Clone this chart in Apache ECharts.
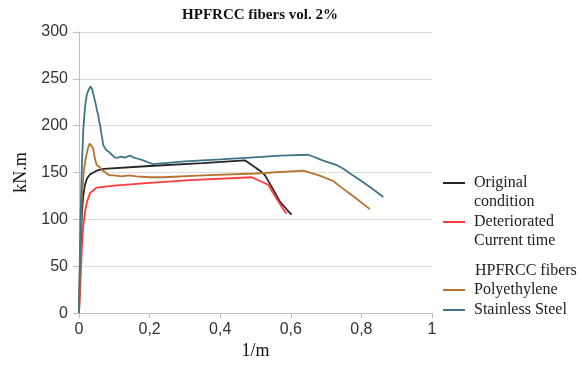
<!DOCTYPE html>
<html>
<head>
<meta charset="utf-8">
<script src="https://cdn.jsdelivr.net/npm/echarts@6/dist/echarts.min.js"></script>
<style>
  html, body { margin: 0; padding: 0; background: #fff; }
  #chart { width: 582px; height: 365px; }
</style>
</head>
<body>
<div id="chart"></div>
<script>
// curvature 1/m vs moment kN.m
var original = [
  [0, 0], [0.004, 60], [0.008, 105], [0.012, 125], [0.017, 137], [0.023, 144],
  [0.031, 148], [0.05, 152], [0.07, 154], [0.2, 157], [0.35, 160], [0.47, 163],
  [0.513, 152], [0.527, 147], [0.55, 132], [0.569, 119], [0.59, 110], [0.602, 105]
];
var deteriorated = [
  [0, 0], [0.003, 24], [0.008, 70], [0.012, 93], [0.017, 108], [0.022, 118],
  [0.031, 128], [0.05, 134], [0.1, 136], [0.2, 139], [0.314, 142], [0.489, 145],
  [0.536, 137], [0.56, 122], [0.575, 113], [0.588, 106]
];
var polyethylene = [
  [0, 0], [0.004, 75], [0.008, 122], [0.013, 150], [0.018, 163], [0.024, 174],
  [0.03, 181], [0.035, 182], [0.04, 176], [0.045, 165], [0.05, 158], [0.058, 156],
  [0.064, 153], [0.069, 152], [0.075, 150], [0.082, 148], [0.088, 147], [0.1, 147],
  [0.12, 146], [0.14, 147], [0.163, 146], [0.2, 145], [0.239, 145], [0.35, 147],
  [0.5, 149], [0.635, 152], [0.68, 147], [0.72, 141], [0.74, 135], [0.758, 130],
  [0.79, 121], [0.824, 111]
];
var stainless = [
  [0, 0], [0.004, 95], [0.008, 155], [0.012, 195], [0.017, 220], [0.022, 233],
  [0.028, 239], [0.033, 242], [0.038, 238], [0.043, 230], [0.048, 222], [0.051, 216],
  [0.054, 212], [0.057, 205], [0.06, 200], [0.063, 192], [0.066, 186], [0.069, 179],
  [0.073, 177], [0.077, 174], [0.081, 176], [0.085, 172], [0.089, 174], [0.093, 169],
  [0.098, 168], [0.102, 166], [0.11, 166], [0.12, 167], [0.13, 166], [0.144, 168],
  [0.155, 166], [0.165, 165], [0.182, 163], [0.195, 161], [0.21, 159], [0.3, 162],
  [0.4, 164], [0.484, 166], [0.57, 168], [0.65, 169], [0.69, 163], [0.73, 158],
  [0.749, 154], [0.768, 149], [0.8, 141], [0.83, 133], [0.862, 124]
];

var xTicks = [0, 0.2, 0.4, 0.6, 0.8, 1];
var yTicks = [0, 50, 100, 150, 200, 250, 300];

var seriesNames = ['Original\ncondition', 'Deteriorated\nCurrent time', 'Polyethylene', 'Stainless Steel'];
var seriesData = [original, deteriorated, polyethylene, stainless];
var seriesColors = ['#262626', '#ff3a3a', '#b8722f', '#3f7586'];

var serif = '"Liberation Serif", "DejaVu Serif", serif';
var sans = '"Liberation Sans", Arial, sans-serif';

var myChart = echarts.init(document.getElementById('chart'));

var series = [];
for (var i = 0; i < seriesNames.length; i++) {
    series.push({
        name: seriesNames[i],
        type: 'line',
        data: seriesData[i],
        symbol: 'none',
        smooth: false,
        lineStyle: { color: seriesColors[i], width: 1.8 },
        itemStyle: { color: seriesColors[i] }
    });
}

myChart.setOption({
    animation: false,
    title: {
        text: 'HPFRCC fibers vol. 2%',
        left: 255,
        top: 3,
        textAlign: 'center',
        textStyle: { fontFamily: serif, fontSize: 15, fontWeight: 'bold', color: '#111' }
    },
    legend: [
        {   // two-line names: a blank first line puts the icon level with "Original"
            data: [seriesNames[0], seriesNames[1]],
            orient: 'vertical',
            left: 438,
            top: 149.5,
            icon: 'rect',
            itemWidth: 22,
            itemHeight: 2,
            itemGap: -18,
            formatter: function (name) { return ' \n' + name; },
            textStyle: { fontFamily: serif, fontSize: 16, color: '#222', lineHeight: 19, padding: [0, 0, 0, 4] }
        },
        {
            data: [seriesNames[2], seriesNames[3]],
            orient: 'vertical',
            left: 438,
            top: 275.5,
            icon: 'rect',
            itemWidth: 22,
            itemHeight: 2,
            itemGap: 1,
            textStyle: { fontFamily: serif, fontSize: 16, color: '#222', lineHeight: 19, padding: [0, 0, 0, 4] }
        }
    ],
    graphic: [{
        type: 'text',
        left: 475,
        top: 263,
        style: { text: 'HPFRCC fibers', fontFamily: serif, fontSize: 16, fill: '#222' }
    }],
    grid: { left: 79, right: 150, top: 32, bottom: 49 },
    xAxis: {
        type: 'value',
        min: 0,
        max: 1,
        interval: 0.2,
        name: '1/m',
        nameLocation: 'middle',
        nameGap: 26,
        nameTextStyle: { fontFamily: serif, fontSize: 18, color: '#111' },
        axisLine: { show: true, lineStyle: { color: '#bfbfbf', width: 1 } },
        axisTick: { show: true, length: 5, lineStyle: { color: '#bfbfbf' } },
        splitLine: { show: false },
        axisLabel: {
            fontFamily: sans, fontSize: 16, color: '#333', margin: 8,
            formatter: function (v) { return String(v).replace('.', ','); }
        }
    },
    yAxis: {
        type: 'value',
        min: 0,
        max: 300,
        interval: 50,
        name: 'kN.m',
        nameLocation: 'middle',
        nameRotate: 90,
        nameGap: 48,
        nameTextStyle: { fontFamily: serif, fontSize: 18, color: '#111' },
        axisLine: { show: true, lineStyle: { color: '#bfbfbf', width: 1 } },
        axisTick: { show: true, length: 6, lineStyle: { color: '#bfbfbf' } },
        splitLine: { show: true, lineStyle: { color: '#dcdcdc', width: 1 } },
        axisLabel: { fontFamily: sans, fontSize: 16, color: '#333', margin: 11 }
    },
    series: series
});
</script>
</body>
</html>
